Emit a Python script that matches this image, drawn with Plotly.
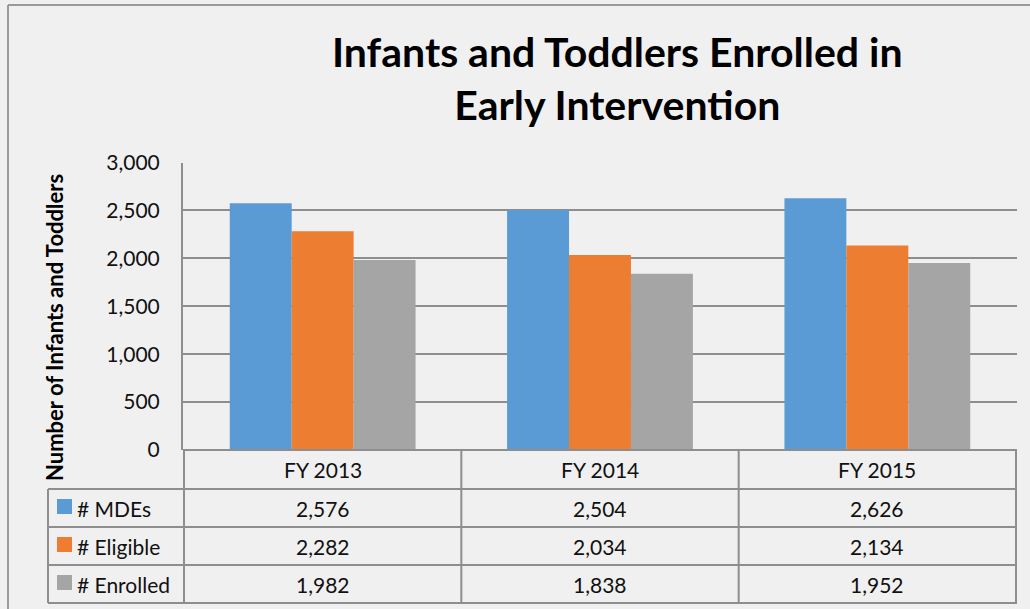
import plotly.graph_objects as go

categories = ["FY 2013", "FY 2014", "FY 2015"]
series_names = ["# MDEs", "# Eligible", "# Enrolled"]
mdes = [2576, 2504, 2626]
eligible = [2282, 2034, 2134]
enrolled = [1982, 1838, 1952]
series_values = [mdes, eligible, enrolled]
colors = ["#5B9BD5", "#ED7D31", "#A5A5A5"]
y_ticks = [0, 500, 1000, 1500, 2000, 2500, 3000]

W, H = 1030, 609
BG = "#F0F0F0"
FONT = "Lato"
LINE = "#8E8E8E"
TXT = "#111111"

def px(x):
    return x / W

def py(y):
    return 1 - y / H

fig = go.Figure()
for name, vals, col in zip(series_names, series_values, colors):
    fig.add_trace(go.Bar(x=categories, y=vals, name=name, marker_color=col,
                         marker_line_width=0))

plot_left, plot_right, plot_top, plot_bottom = 183, 1017, 162.5, 450
row_lines = [450, 489, 527, 565, 603]

shapes = []
# outer chart border (top, left)
shapes.append(dict(type="line", xref="paper", yref="paper", x0=px(8), x1=1,
                   y0=py(5), y1=py(5), line=dict(color="#9A9A9A", width=2)))
shapes.append(dict(type="line", xref="paper", yref="paper", x0=px(8), x1=px(8),
                   y0=py(5), y1=0, line=dict(color="#9A9A9A", width=2)))
# table horizontal lines
for i, ry in enumerate(row_lines):
    x0 = plot_left if i == 0 else 48
    shapes.append(dict(type="line", xref="paper", yref="paper", x0=px(x0), x1=px(plot_right),
                       y0=py(ry), y1=py(ry), line=dict(color=LINE, width=2)))
# table vertical lines
shapes.append(dict(type="line", xref="paper", yref="paper", x0=px(48), x1=px(48),
                   y0=py(489), y1=py(603), line=dict(color=LINE, width=2)))
for k in range(len(categories) + 1):
    xv = k - 0.5
    shapes.append(dict(type="line", xref="x", yref="paper", x0=xv, x1=xv,
                       y0=py(450), y1=py(603), line=dict(color=LINE, width=2)))

annotations = []
# header
for c in categories:
    annotations.append(dict(x=c, xref="x", y=py(470), yref="paper", text=c, showarrow=False,
                            font=dict(family=FONT, size=21, color=TXT),
                            xanchor="center", yanchor="middle"))
row_centers = [508, 546, 584]
for name, vals, col, rc in zip(series_names, series_values, colors, row_centers):
    shapes.append(dict(type="rect", xref="paper", yref="paper", x0=px(57), x1=px(72),
                       y0=py(rc - 9), y1=py(rc + 6), fillcolor=col, line=dict(width=0)))
    annotations.append(dict(x=px(75), xref="paper", y=py(rc), yref="paper", text=name,
                            showarrow=False, font=dict(family=FONT, size=21, color=TXT),
                            xanchor="left", yanchor="middle"))
    for c, v in zip(categories, vals):
        annotations.append(dict(x=c, xref="x", y=py(rc), yref="paper", text=f"{v:,}",
                                showarrow=False, font=dict(family=FONT, size=21, color=TXT),
                                xanchor="center", yanchor="middle"))
# title
annotations.append(dict(x=px(617), xref="paper", y=py(78), yref="paper",
                        text="<b>Infants and Toddlers Enrolled in<br>Early Intervention</b>",
                        showarrow=False, font=dict(family=FONT, size=41, color="#000000"),
                        xanchor="center", yanchor="middle"))
# y axis title
annotations.append(dict(x=px(54), xref="paper", y=py(328), yref="paper",
                        text="<b>Number of Infants and Toddlers</b>", textangle=-90,
                        showarrow=False, font=dict(family=FONT, size=22, color="#000000"),
                        xanchor="center", yanchor="middle"))

fig.update_layout(
    width=W, height=H,
    margin=dict(l=0, r=0, t=0, b=0, pad=0, autoexpand=False),
    paper_bgcolor=BG, plot_bgcolor=BG,
    barmode="group", bargap=0.33, bargroupgap=0,
    showlegend=False,
    font=dict(family=FONT, color=TXT),
    xaxis=dict(domain=[px(plot_left), px(plot_right)], showticklabels=False, showgrid=False,
               zeroline=False, showline=False, fixedrange=True, automargin=False),
    yaxis=dict(domain=[py(plot_bottom), py(plot_top)], range=[0, 3000], tickvals=y_ticks,
               tickformat=",", showgrid=True, gridcolor=LINE, gridwidth=2, automargin=False,
               zeroline=False, showline=True, linecolor=LINE, linewidth=2, fixedrange=True,
               ticklabelstandoff=17, tickfont=dict(family=FONT, size=21, color=TXT)),
    shapes=shapes, annotations=annotations,
)

fig.write_html("out.html", config={"displayModeBar": False},
               post_script="document.body.style.margin='0';document.body.style.overflow='hidden';"
                           "document.body.style.background='#F0F0F0';")
